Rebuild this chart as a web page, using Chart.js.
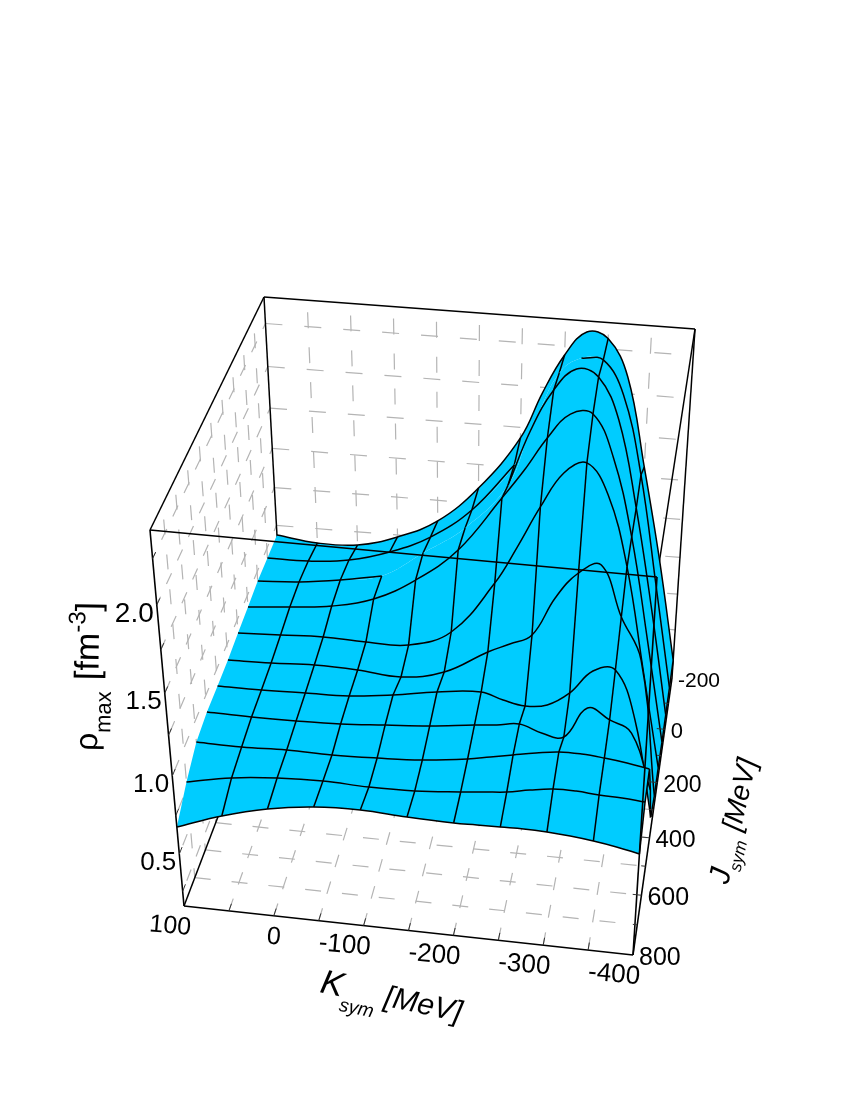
<!DOCTYPE html>
<html>
<head>
<meta charset="utf-8">
<title>rho max surface</title>
<script src="https://cdn.jsdelivr.net/npm/chart.js@4"></script>
<style>
  body { margin: 0; background: #fff; }
</style>
</head>
<body>
<canvas id="chart" width="850" height="1100"></canvas>
<script>
// Axes
const kValues = [100, 50, 0, -50, -100, -150, -200, -225, -250, -275, -300, -325, -350, -375, -400];
const kMesh = [50, 0, -50, -100, -150, -200, -250, -300, -350, -400];
const jValues = [-200, -100, 0, 100, 200, 300, 400, 500, 600, 700, 800];
const kTicks = [100, 0, -100, -200, -300, -400];
const jTicks = [-200, 0, 200, 400, 600, 800];
const rhoTicks = [0.5, 1.0, 1.5, 2.0];

// rho_max along each J line, same order as kValues
const rhoJm200 = [0.935, 0.903, 0.911, 0.987, 1.115, 1.350, 1.685, 1.966, 2.198, 2.338, 2.310, 2.098, 1.564, 0.972, 0.282];
const rhoJm100 = [0.936, 0.938, 0.967, 1.043, 1.163, 1.359, 1.661, 1.953, 2.224, 2.318, 2.317, 2.127, 1.661, 0.980, 0.263];
const rhoJ0 = [0.939, 0.956, 0.992, 1.042, 1.214, 1.395, 1.682, 2.019, 2.258, 2.385, 2.350, 2.117, 1.606, 0.968, 0.254];
const rhoJ100 = [0.925, 0.950, 0.980, 1.050, 1.196, 1.409, 1.748, 1.924, 2.119, 2.264, 2.275, 2.036, 1.579, 0.937, 0.248];
const rhoJ200 = [0.915, 0.927, 0.939, 0.931, 0.936, 1.046, 1.380, 1.612, 1.861, 2.067, 2.135, 1.963, 1.549, 0.910, 0.254];
const rhoJ300 = [0.901, 0.907, 0.920, 0.914, 0.894, 0.952, 1.107, 1.170, 1.239, 1.480, 1.642, 1.701, 1.400, 1.144, 0.249];
const rhoJ400 = [0.897, 0.898, 0.905, 0.913, 0.946, 0.992, 1.018, 0.980, 0.955, 0.975, 1.065, 1.216, 1.235, 0.932, 0.296];
const rhoJ500 = [0.896, 0.892, 0.894, 0.902, 0.923, 0.945, 0.978, 0.992, 1.012, 0.969, 0.957, 1.153, 1.092, 1.023, 0.669];
const rhoJ600 = [0.873, 0.869, 0.879, 0.876, 0.885, 0.901, 0.936, 0.963, 0.990, 1.016, 1.037, 1.038, 1.027, 1.010, 0.986];
const rhoJ700 = [0.789, 0.845, 0.874, 0.885, 0.876, 0.881, 0.904, 0.919, 0.933, 0.960, 0.981, 0.983, 0.973, 0.969, 0.958];
const rhoJ800 = [0.677, 0.779, 0.854, 0.897, 0.909, 0.895, 0.888, 0.891, 0.893, 0.896, 0.892, 0.882, 0.866, 0.844, 0.815];
const rhoRows = [rhoJm200, rhoJm100, rhoJ0, rhoJ100, rhoJ200, rhoJ300, rhoJ400, rhoJ500, rhoJ600, rhoJ700, rhoJ800];

// Mesh pieces the original plot leaves out
const rowGaps = [{ j: 0, from: -50, to: -200 }, { j: -100, from: -200, to: -275 }];
const meshGaps = [{ k: -50, j: -100 }];

// Box and camera
const kMax = 100, kMin = -400, jMax = 800, jMin = -200, rhoMin = 0.15, rhoMax = 2.4;
const floorFL = [184, 906], floorFR = [633, 955], floorBR = [672, 678], floorBL = [283, 646];
const topFL = [150, 530], topFR = [657, 577], topBR = [695, 329], topBL = [264, 297];
const backWeight = 1.1, floorWeight = 1.15;

function project(k, j, rho) {
  const u = (kMax - k) / (kMax - kMin);
  const v = (jMax - j) / (jMax - jMin);
  const t = (rho - rhoMin) / (rhoMax - rhoMin);
  const corners = [
    [floorFL, (1 - u) * (1 - v) * (1 - t) * floorWeight],
    [floorFR, u * (1 - v) * (1 - t) * floorWeight],
    [floorBL, (1 - u) * v * (1 - t) * floorWeight * backWeight],
    [floorBR, u * v * (1 - t) * floorWeight * backWeight],
    [topFL, (1 - u) * (1 - v) * t],
    [topFR, u * (1 - v) * t],
    [topBL, (1 - u) * v * t * backWeight],
    [topBR, u * v * t * backWeight],
  ];
  let x = 0, y = 0, w = 0;
  corners.forEach(([p, c]) => { x += p[0] * c; y += p[1] * c; w += c; });
  return { x: x / w, y: y / w };
}

const blue = "#00CCFF", gridGrey = "#b4b4b4", ink = "#000";
const curve = 0.4;
const datasets = [];

function addLine(points, color, width, dash, offset, tension) {
  datasets.push({ data: points, showLine: true, fill: false, borderColor: color, borderWidth: width,
    borderDash: dash || [], borderDashOffset: offset || 0, pointRadius: 0, tension: tension || 0 });
}

// Wall and floor grids
for (let z = 0.25; z <= 2.25; z += 0.25) {
  addLine([project(kMax, jMin, z), project(kMin, jMin, z)], gridGrey, 1.2, [17, 22]);
  addLine([project(kMax, jMin, z), project(kMax, jMax, z)], gridGrey, 1.2, [12, 14], 6);
}
for (let k = 50; k >= -350; k -= 50) {
  addLine([project(k, jMin, rhoMax), project(k, jMin, rhoMin)], gridGrey, 1.2, [16, 19], 23);
  addLine([project(k, jMax, rhoMin), project(k, jMin, rhoMin)], gridGrey, 1.2, [13, 15]);
}
for (let j = -100; j <= 700; j += 100) {
  addLine([project(kMax, j, rhoMax), project(kMax, j, rhoMin)], gridGrey, 1.2, [15, 20], 20);
  addLine([project(kMax, j, rhoMin), project(kMin, j, rhoMin)], gridGrey, 1.2, [16, 21]);
}

// Box edges behind the surface
const boxBack = [[topBL, floorBL], [topBL, topBR], [floorFL, floorBL], [topBR, floorBR], [topFL, topBL], [topBR, topFR]];
boxBack.forEach(([a, b]) => addLine([{ x: a[0], y: a[1] }, { x: b[0], y: b[1] }], ink, 1.5));

const rowPoints = jValues.map((j, r) => kValues.map((k, c) => project(k, j, rhoRows[r][c])));

// screen y of a projected line at a given x, null when it does not reach x
function yAt(points, x) {
  for (let i = 0; i < points.length - 1; i++) {
    const a = points[i], b = points[i + 1];
    if ((a.x - x) * (b.x - x) <= 0 && a.x !== b.x) return a.y + (b.y - a.y) * (x - a.x) / (b.x - a.x);
  }
  return null;
}

// draw a J line, leaving out gaps and what the strip in front of it covers
function addRowLine(r, front) {
  let run = [];
  const flush = () => { if (run.length > 1) addLine(run, ink, 1.5, null, 0, curve); run = []; };
  rowPoints[r].forEach((p, c) => {
    const gap = rowGaps.find((g) => g.j === jValues[r]);
    const inGap = gap && kValues[c] < gap.from && kValues[c] > gap.to;
    const frontY = front ? yAt(front, p.x) : null;
    const covered = frontY !== null && frontY < p.y - 1;
    if (inGap || covered) {
      flush();
    } else {
      run.push(p);
    }
  });
  flush();
}

// Surface strips, back row first
for (let r = 0; r < jValues.length - 1; r++) {
  const back = rowPoints[r], front = rowPoints[r + 1];
  const n = back.length - 1;
  const outline = [back[0], ...back, back[n], front[n], ...front.slice().reverse(), front[0]];
  datasets.push({ data: outline, showLine: true, fill: "shape", backgroundColor: blue, borderColor: blue,
    borderWidth: 0, pointRadius: 0, tension: curve });
  addRowLine(r, front);
  kValues.forEach((k, c) => {
    if (!kMesh.includes(k) || meshGaps.some((g) => g.k === k && g.j === jValues[r])) return;
    addLine([back[c], front[c]], ink, 1.5);
  });
}
addRowLine(jValues.length - 1, null);

// Box edges in front
const boxFront = [[topFL, topFR], [topFL, floorFL], [topFR, floorFR], [floorFL, floorFR], [floorFR, floorBR]];
boxFront.forEach(([a, b]) => addLine([{ x: a[0], y: a[1] }, { x: b[0], y: b[1] }], ink, 1.6));

// Axis ticks
for (let k = 50; k >= -350; k -= 50) addLine([project(k, jMax, rhoMin), project(k, jMax - 25, rhoMin)], "#333", 1);
for (let j = -100; j <= 700; j += 100) addLine([project(kMin, j, rhoMin), project(kMin + (j % 200 === 0 ? 10 : 5), j, rhoMin)], "#333", 1);
for (let z = 0.25; z <= 2.25; z += 0.25) addLine([project(kMax, jMax, z), project(kMax, jMax - 25, z)], "#333", 1);

const font = (size, style) => `${style || ""} ${size}px "Liberation Sans"`;
const kTickSizes = [25, 25, 26, 26, 26, 26];
const jTickSizes = [21, 22, 23, 24, 25, 25];
const rhoTickSizes = [26, 26, 26, 28];

function drawRuns(ctx, x, y, degrees, runs) {
  ctx.save();
  ctx.translate(x, y);
  ctx.rotate(degrees * Math.PI / 180);
  ctx.textAlign = "left";
  ctx.textBaseline = "alphabetic";
  let pen = 0;
  runs.forEach((run) => {
    ctx.font = run.font;
    pen += run.gap || 0;
    ctx.fillText(run.text, pen, run.dy || 0);
    pen += ctx.measureText(run.text).width;
  });
  ctx.restore();
}

const labelsPlugin = {
  id: "axisLabels",
  afterDraw(chart) {
    const ctx = chart.ctx;
    ctx.save();
    ctx.fillStyle = "#000";
    kTicks.forEach((k, i) => {
      const p = project(k, jMax, rhoMin);
      ctx.save();
      ctx.translate(p.x + 7, p.y + 22);
      ctx.rotate(5 * Math.PI / 180);
      ctx.font = font(kTickSizes[i]);
      ctx.textAlign = "right";
      ctx.textBaseline = "middle";
      ctx.fillText(String(k), 0, 0);
      ctx.restore();
    });
    jTicks.forEach((j, i) => {
      const p = project(kMin, j, rhoMin);
      ctx.font = font(jTickSizes[i]);
      ctx.textAlign = "left";
      ctx.textBaseline = "middle";
      ctx.fillText(String(j), p.x + 6, p.y + 3);
    });
    rhoTicks.forEach((z, i) => {
      const p = project(kMax, jMax, z);
      ctx.font = font(rhoTickSizes[i]);
      ctx.textAlign = "right";
      ctx.textBaseline = "middle";
      ctx.fillText(z.toFixed(1), p.x - 3, p.y + 9);
    });
    drawRuns(ctx, 97, 751, -89, [
      { text: "ρ", font: font(32) },
      { text: "max", font: font(22), dy: 13 },
      { text: "[fm", font: font(34), gap: 11 },
      { text: "-3", font: font(24), dy: -14 },
      { text: "]", font: font(34) },
    ]);
    drawRuns(ctx, 319, 992, 12, [
      { text: "K", font: font(34, "italic") },
      { text: "sym", font: font(19, "italic"), dy: 14 },
      { text: "[MeV]", font: font(30, "italic"), gap: 8 },
    ]);
    drawRuns(ctx, 728, 885, -77, [
      { text: "J", font: font(30, "italic") },
      { text: "sym", font: font(17, "italic"), dy: 9 },
      { text: "[MeV]", font: font(28, "italic"), gap: 8 },
    ]);
    ctx.restore();
  },
};

new Chart(document.getElementById("chart").getContext("2d"), {
  type: "scatter",
  data: { datasets: datasets.reverse() },
  plugins: [labelsPlugin],
  options: {
    responsive: false,
    animation: false,
    events: [],
    layout: { padding: 0 },
    plugins: { legend: { display: false }, tooltip: { enabled: false } },
    scales: {
      x: { type: "linear", display: false, min: 0, max: 850 },
      y: { type: "linear", display: false, min: 0, max: 1100, reverse: true },
    },
  },
});
</script>
</body>
</html>
